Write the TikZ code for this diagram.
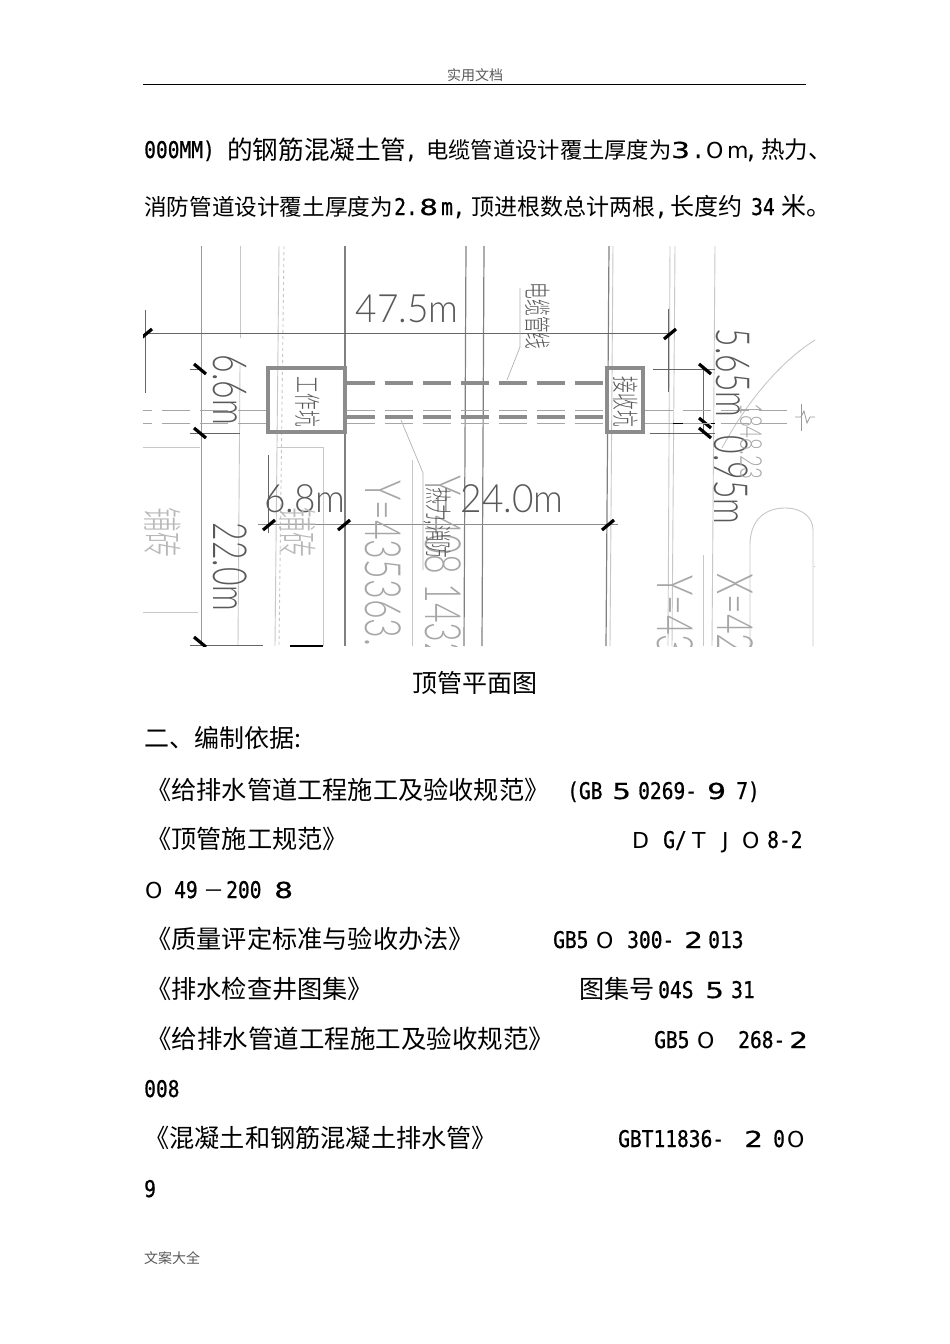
\documentclass[tikz,border=0pt]{standalone}
\usepackage{fontspec}
\setmainfont{Noto Sans CJK SC}
\newfontfamily\latfont[FakeStretch=0.85,FakeBold=0.8]{DejaVu Sans Mono}
\newfontfamily\digfont[FakeStretch=1.35,FakeBold=0.5]{DejaVu Sans}
\newfontfamily\ltrfont{DejaVu Sans}
\newfontfamily\dimfont[FakeStretch=0.95]{Lato Light}
\newfontfamily\dimnarrow[FakeStretch=0.68]{Lato Light}
\newfontfamily\cjknarrow[FakeStretch=0.62]{Noto Sans CJK SC Light}
\newcommand{\sz}[1]{\fontsize{#1}{#1}\selectfont}
\tikzset{
  txt/.style={anchor=base west,inner sep=0pt,font=\sz{25.2}},
  mid/.style={anchor=base west,inner sep=0pt,font=\sz{22.3}},
  lat/.style={anchor=base west,inner sep=0pt,font=\latfont\sz{23}},
  wdig/.style={anchor=base west,inner sep=0pt,font=\digfont\sz{22}},
  wltr/.style={anchor=base west,inner sep=0pt,font=\ltrfont\sz{22}},
  dimtxt/.style={inner sep=0pt,text=black!65,font=\dimfont\sz{39}},
  dimrot/.style={inner sep=0pt,text=black!65,rotate=-90,font=\dimnarrow\sz{47}},
  faint/.style={inner sep=0pt,text=black!35,rotate=-90,anchor=west,font=\dimnarrow\sz{50}},
  cjklab/.style={inner sep=0pt,text=black!65,rotate=-90,font=\cjknarrow\sz{27}},
  road/.style={black!50,line width=1.2pt},
  kerb/.style={black!22,line width=0.9pt},
  dimline/.style={black!60,line width=0.8pt},
  tick/.style={black,line width=3.2pt},
  pit/.style={draw=black!45,line width=3.4pt,inner sep=0pt},
  pipe/.style={black!45,line width=4pt,dash pattern=on 28pt off 10pt},
  thinpipe/.style={black!35,line width=0.8pt,dash pattern=on 28pt off 10pt},
}
\begin{document}
\begin{tikzpicture}[x=1pt,y=-1pt]
\useasboundingbox (0,0) rectangle (950,1344);
\fill[white] (0,0) rectangle (950,1344);
% header
\node (hd) at (475,75) [inner sep=0pt,text=black!65,font=\sz{14}] {实用文档};
\draw[line width=1.2pt] (143,84.5) -- (806,84.5);
% first two lines
\node (a1) at (144,158) [lat] {000MM)};
\node (a2) at (227,159) [txt,font=\sz{25.6}] {的钢筋混凝土管};
\node (a3) at (405,158) [lat] {,};
\node (a4) at (426,158) [mid] {电缆管道设计覆土厚度为};
\node (a5) at (671,158) [wdig] {3};
\node (a6) at (692,158) [lat] {.};
\node (a7) at (706,158) [wltr] {O};
\node (a8) at (727,158) [wltr] {m};
\node (a9) at (745,158) [lat] {,};
\node (a10) at (761,158) [mid,font=\sz{23.5}] {热力、};
\node (b1) at (144,215) [mid,font=\sz{22.6}] {消防管道设计覆土厚度为};
\node (b2) at (394,215) [lat] {2.};
\node (b3) at (419,215) [wdig] {8};
\node (b4) at (441,215) [lat] {m,};
\node (b5) at (471,215) [txt,font=\sz{23}] {顶进根数总计两根};
\node (b6) at (655,215) [lat] {,};
\node (b7) at (670,215) [txt,font=\sz{24}] {长度约};
\node (b8) at (751,215) [lat] {34};
\node (b9) at (781,215) [txt,font=\sz{25}] {米。};
% plan
\begin{scope}
\clip (143,246) rectangle (815,646);
\draw[road] (345,246) -- (345,646);
\draw[road] (466,246) -- (464,646);
\draw[road] (484,246) -- (482,646);
\draw[road] (609,246) -- (606,646);
\draw[black!40,line width=1pt] (201,246) -- (201,646);
\draw[kerb] (240,246) -- (240,338);
\draw[kerb] (240,365) -- (238,646);
\draw[kerb] (279,246) -- (275,646);
\draw[kerb,dashed] (284,246) -- (279,646);
\draw[kerb] (613,246) -- (610,646);
\draw[kerb] (670,246) -- (668,646);
\draw[kerb] (675,246) -- (672,646);
\draw[kerb] (715,246) -- (712,646);
\draw[kerb] (412,460) -- (412,646);
\draw[kerb] (703,555) -- (703,646);
\draw[kerb] (143,447) -- (200,447);
\draw[kerb] (277,447) -- (323,447) -- (323,646);
\draw[kerb] (143,612) -- (198,612);
\draw[kerb] (722,448) .. controls (745,405) and (780,360) .. (820,337);
\draw[kerb] (750,646) -- (750,545) .. controls (750,520) and (765,508) .. (785,508) .. controls (803,508) and (813,518) .. (813,530) -- (813,646);
\draw[kerb] (814,566) -- (820,566);
% dim lines
\draw[dimline] (145,333) -- (670,333);
\draw[dimline] (145,310) -- (145,393);
\draw[dimline] (668,309) -- (668,392);
\draw[dimline] (190,369) -- (203,369);
\draw[dimline] (190,433) -- (240,433);
\draw[dimline] (653,369) -- (715,369);
\draw[black,line width=0.9pt] (650,423) -- (715,423);
\draw[dimline] (650,433) -- (715,433);
\draw[dimline] (703,366) -- (703,433);
\draw[dimline] (268,455) -- (268,533);
\draw[black!45,line width=1pt] (258,524.5) -- (618,524.5);
\draw[dimline] (190,645) -- (263,645);
\draw[black,line width=1.4pt] (291,650) -- (291,646) -- (322,646) -- (322,650);
\draw[tick] (146,334) +(-6,5) -- +(6,-5);
\draw[tick] (670,334) +(-6,5) -- +(6,-5);
\draw[tick] (269,525) +(-6,5) -- +(6,-5);
\draw[tick] (344,525) +(-6,5) -- +(6,-5);
\draw[tick] (608,525) +(-6,5) -- +(6,-5);
\draw[tick] (200,369) +(-6,-5) -- +(6,5);
\draw[tick] (200,433) +(-6,-5) -- +(6,5);
\draw[tick] (200,642) +(-6,-5) -- +(6,5);
\draw[tick] (705,369) +(-6,-5) -- +(6,5);
\draw[tick] (705,423) +(-6,-5) -- +(6,5);
\draw[tick] (705,433) +(-6,-5) -- +(6,5);
% pits and pipes
\node (work) at (306.5,400) [pit,minimum width=77,minimum height=64] {};
\node (recv) at (625,400) [pit,minimum width=36,minimum height=64] {};
\draw[pipe] (work.east |- 0,383) -- (recv.west |- 0,383);
\draw[pipe] (work.east |- 0,417) -- (recv.west |- 0,417);
\draw[thinpipe] (work.east |- 0,410) -- (recv.west |- 0,410);
\draw[thinpipe] (work.east |- 0,423) -- (recv.west |- 0,423);
\draw[thinpipe] (work.west |- 0,410) -- (143,410);
\draw[thinpipe] (work.west |- 0,423) -- (143,423);
\draw[thinpipe] (recv.east |- 0,410) -- (795,410);
\draw[thinpipe] (recv.east |- 0,423) -- (795,423);
\draw[black!40,line width=0.8pt] (795,417) -- (801,417) -- (804,411) -- (807,423) -- (810,417) -- (815,417);
\draw[black!40,line width=0.8pt] (801,404) -- (801,431);
% leaders
\coordinate (lead1) at (520,288);
\coordinate (lead2) at (520,347);
\coordinate (lead3) at (507,380);
\draw[black!30,line width=0.7pt] (lead1) -- (lead2) -- (lead3);
\coordinate (lead4) at (401,420);
\coordinate (lead5) at (423,473);
\coordinate (lead6) at (423,570);
\draw[black!30,line width=0.7pt] (lead4) -- (lead5) -- (lead6);
% labels
\node (t475) at (407,309) [dimtxt] {47.5m};
\node (t66) at (230,390) [dimrot] {6.6m};
\node (t565) at (733,373) [dimrot] {5.65m};
\node (t095) at (731,480) [dimrot] {0.95m};
\node (t68) at (305,499) [dimtxt] {6.8m};
\node (t24) at (512,499) [dimtxt] {24.0m};
\node (t22) at (230,567) [dimrot] {22.0m};
\node (yy1) at (383,480) [faint] {Y=435363.};
\node (yy2) at (443,475) [faint] {Y=408 1432};
\node (yy3) at (675,575) [faint] {Y=43};
\node (xx1) at (735,573) [faint] {X=42};
\node (ht) at (751,403) [faint,font=\dimnarrow\sz{30}] {1848.23};
\node (brk1) at (163,532) [cjklab,text=black!28,font=\cjknarrow\sz{40}] {铺砖};
\node (brk2) at (298,532) [cjklab,text=black!28,font=\cjknarrow\sz{40}] {铺砖};
\node (wk) at (308,402) [cjklab] {工作坑};
\node (rc) at (626,402) [cjklab] {接收坑};
\node (dl) at (538,316) [cjklab] {电缆管线};
\node (rx) at (437,523) [cjklab] {热力,消防};
\end{scope}
% text below
\node (cap) at (475,692) [anchor=base,inner sep=0pt,font=\sz{25}] {顶管平面图};
\node (c1) at (144,747) [txt,font=\sz{25}] {二、编制依据:};
\node (d1) at (146,799) [txt] {《给排水管道工程施工及验收规范》};
\node (d2) at (567,799) [lat] {(GB};
\node (d3) at (612,799) [wdig] {5};
\node (d4) at (638,799) [lat] {0269-};
\node (d5) at (707,799) [wdig] {9};
\node (d6) at (736,799) [lat] {7)};
\node (e1) at (146,848) [txt] {《顶管施工规范》};
\node (e2) at (632,848) [wltr] {D};
\node (e3) at (663,848) [lat] {G/};
\node (e4) at (692,848) [wltr] {T};
\node (e5) at (722,848) [wltr] {J};
\node (e6) at (742,848) [wltr] {O};
\node (e7) at (767,848) [lat] {8-2};
\node (f1) at (145,898) [wltr] {O};
\node (f2) at (174,898) [lat] {49};
\node (f3) at (203,898) [txt,font=\sz{21}] {－};
\node (f4) at (226,898) [lat] {200};
\node (f5) at (274,898) [wdig] {8};
\node (g1) at (146,948) [txt] {《质量评定标准与验收办法》};
\node (g2) at (553,948) [lat] {GB5};
\node (g3) at (596,948) [wltr] {O};
\node (g4) at (627,948) [lat] {300-};
\node (g5) at (684,948) [wdig] {2};
\node (g6) at (708,948) [lat] {013};
\node (h1) at (146,998) [txt] {《排水检查井图集》};
\node (h2) at (579,998) [txt] {图集号};
\node (h3) at (658,998) [lat] {04S};
\node (h4) at (705,998) [wdig] {5};
\node (h5) at (731,998) [lat] {31};
\node (i1) at (146,1048) [txt,font=\sz{25.5}] {《给排水管道工程施工及验收规范》};
\node (i2) at (654,1048) [lat] {GB5};
\node (i3) at (697,1048) [wltr] {O};
\node (i4) at (738,1048) [lat] {268-};
\node (i5) at (789,1048) [wdig] {2};
\node (j1) at (144,1097) [lat] {008};
\node (k1) at (144,1147) [txt] {《混凝土和钢筋混凝土排水管》};
\node (k2) at (618,1147) [lat] {GBT11836-};
\node (k3) at (744,1147) [wdig] {2};
\node (k4) at (773,1147) [lat] {0};
\node (k5) at (787,1147) [wltr] {O};
\node (l1) at (144,1197) [lat] {9};
\node (ft) at (144,1263) [anchor=base west,inner sep=0pt,text=black!65,font=\sz{14}] {文案大全};
\end{tikzpicture}
\end{document}
